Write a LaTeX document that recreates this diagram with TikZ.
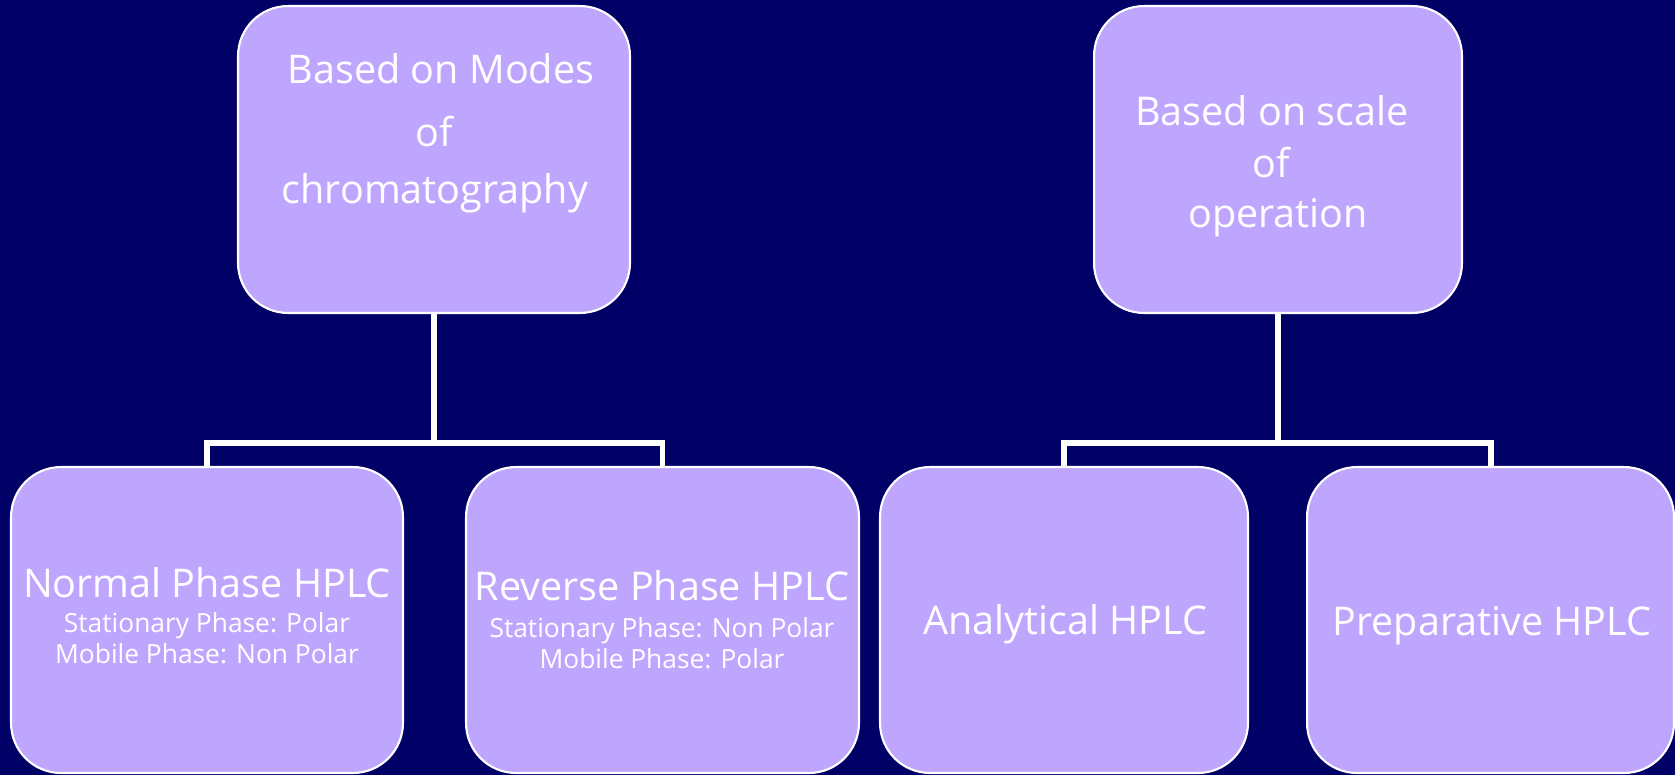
\documentclass[tikz,border=0pt]{standalone}
\usepackage{fontspec}
\setmainfont{Open Sans}
\definecolor{navybg}{RGB}{0,0,102}
\definecolor{lav}{RGB}{190,166,255}
\begin{document}
\begin{tikzpicture}[x=0.02cm,y=-0.02cm,
  box/.style={draw=white,line width=1.2pt,fill=lav,rounded corners=1cm,inner sep=0pt,rectangle},
  big/.style={text=white,font=\fontsize{22.5}{27}\selectfont,anchor=base,inner sep=0pt},
  small/.style={text=white,font=\fontsize{15}{18}\selectfont,anchor=base,inner sep=0pt},
  conn/.style={draw=white,line width=3.4pt,line join=miter}]
\fill[navybg] (0,0) rectangle (1675,775);
\useasboundingbox (0,0) rectangle (1675,775);
% boxes
\node[box,minimum width=7.84cm,minimum height=6.14cm] (tl) at (434,159.5) {};
\node[box,minimum width=7.36cm,minimum height=6.14cm] (tr) at (1278,159.5) {};
\node[box,minimum width=7.84cm,minimum height=6.12cm] (b1) at (207,620) {};
\node[box,minimum width=7.86cm,minimum height=6.12cm] (b2) at (662.5,620) {};
\node[box,minimum width=7.36cm,minimum height=6.12cm] (b3) at (1064,620) {};
\node[box,minimum width=7.34cm,minimum height=6.12cm] (b4) at (1490.5,620) {};
% connectors
\coordinate (jl) at (434,443);
\coordinate (jr) at (1278,443);
\draw[conn] (tl.south) -- (jl);
\draw[conn] (b1.north) |- (jl) -| (b2.north);
\draw[conn] (tr.south) -- (jr);
\draw[conn] (b3.north) |- (jr) -| (b4.north);
% texts top left
\node[big] (t1a) at (441,83) {Based on Modes};
\node[big] (t1b) at (434,146) {of};
\node[big] (t1c) at (435,203) {chromatography};
% texts top right
\node[big] (t2a) at (1272,125) {Based on scale};
\node[big] (t2b) at (1271,177) {of};
\node[big] (t2c) at (1278,227) {operation};
% bottom texts
\node[big] (n1) at (207,597) {Normal Phase HPLC};
\node[small] (n2) at (207,632) {Stationary Phase: Polar};
\node[small] (n3) at (207,663) {Mobile Phase: Non Polar};
\node[big] (r1) at (662,600) {Reverse Phase HPLC};
\node[small] (r2) at (662,637) {Stationary Phase: Non Polar};
\node[small] (r3) at (662,668) {Mobile Phase: Polar};
\node[big] (a1) at (1065,634) {Analytical HPLC};
\node[big] (p1) at (1492,635) {Preparative HPLC};
\end{tikzpicture}
\end{document}
